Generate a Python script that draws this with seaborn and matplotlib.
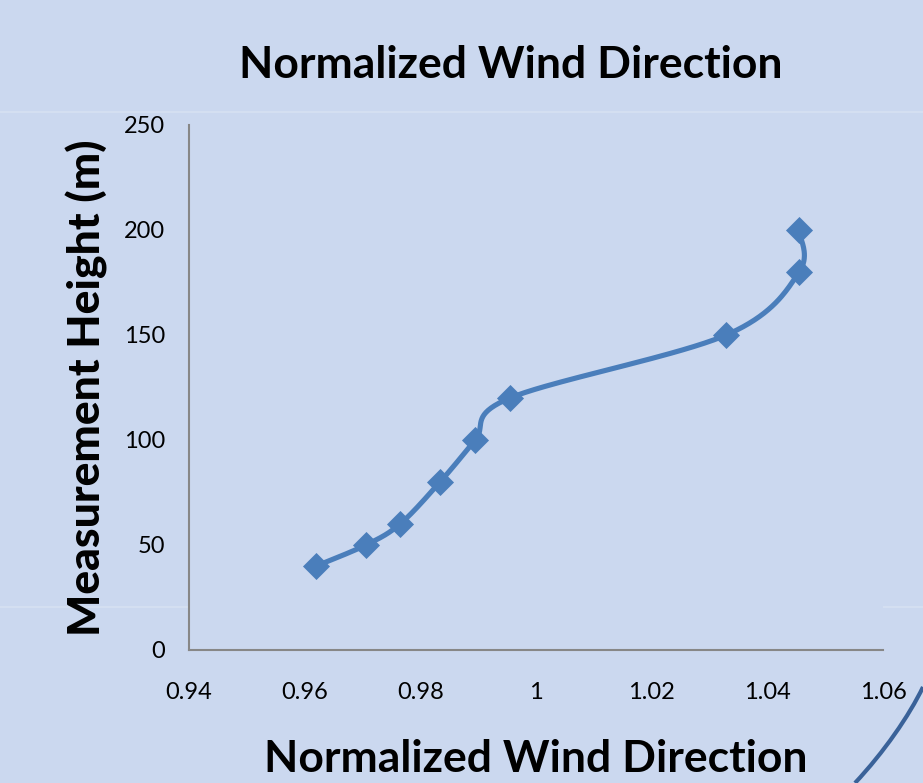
import numpy as np
import pandas as pd
import matplotlib
matplotlib.use("Agg")
import matplotlib.pyplot as plt
from matplotlib.patches import PathPatch
from matplotlib.path import Path
import seaborn as sns

# Measured profile
wind_dir = [0.962, 0.9706, 0.9765, 0.9834, 0.9895, 0.9955, 1.0329, 1.0455, 1.0454]
height = [40, 50, 60, 80, 100, 120, 150, 180, 200]
x_ticks = [0.94, 0.96, 0.98, 1.0, 1.02, 1.04, 1.06]
x_tick_labels = ["0.94", "0.96", "0.98", "1", "1.02", "1.04", "1.06"]
y_ticks = [0, 50, 100, 150, 200, 250]

BG = "#cbd8ef"
LINE = "#4a7ebb"

sns.set_theme(style="white")
plt.rcParams["font.family"] = ["Lato", "DejaVu Sans"]
plt.rcParams["text.color"] = "black"
plt.rcParams["axes.labelcolor"] = "black"

fig = plt.figure(figsize=(9.23, 7.83), dpi=100, facecolor=BG)
ax = fig.add_axes([0.2048, 0.1699, 0.9567 - 0.2048, 0.8404 - 0.1699])
ax.set_facecolor(BG)
ax.set_xlim(0.94, 1.06)
ax.set_ylim(0, 250)

# subtle background banding
for yy, a in [(0.857, 0.22), (0.225, 0.22)]:
    fig.add_artist(plt.Line2D([0, 1], [yy, yy], transform=fig.transFigure,
                              color="white", lw=1.2, alpha=a, zorder=0))

# Smoothed curve (cardinal spline in screen space, like spreadsheet smoothing)
pts = ax.transData.transform(np.column_stack([wind_dir, height]))
n = len(pts)
curve = []
for i in range(n - 1):
    p0 = pts[i - 1] if i > 0 else pts[i]
    p1 = pts[i]
    p2 = pts[i + 1]
    p3 = pts[i + 2] if i + 2 < n else pts[i + 1]
    c1 = p1 + (p2 - p0) / 6.0
    c2 = p2 - (p3 - p1) / 6.0
    t = np.linspace(0, 1, 40)[:, None]
    seg = ((1 - t) ** 3) * p1 + 3 * ((1 - t) ** 2) * t * c1 + 3 * (1 - t) * t ** 2 * c2 + t ** 3 * p2
    curve.append(seg if i == 0 else seg[1:])
curve = ax.transData.inverted().transform(np.vstack(curve))
smooth = pd.DataFrame({"x": curve[:, 0], "y": curve[:, 1]})
obs = pd.DataFrame({"x": wind_dir, "y": height})

sns.lineplot(data=smooth, x="x", y="y", sort=False, estimator=None, ax=ax,
             color=LINE, lw=3.7, zorder=3)
sns.scatterplot(data=obs, x="x", y="y", ax=ax, marker="D", s=190,
                color=LINE, edgecolor=LINE, linewidth=0, zorder=4)

ax.set_xticks(x_ticks)
ax.set_xticklabels(x_tick_labels)
ax.set_yticks(y_ticks)
ax.tick_params(axis="both", length=0, labelsize=17, colors="black")
ax.tick_params(axis="x", pad=23)
ax.tick_params(axis="y", pad=17)
for s in ["top", "right"]:
    ax.spines[s].set_visible(False)
for s in ["left", "bottom"]:
    ax.spines[s].set_color("#878787")
    ax.spines[s].set_linewidth(1.5)

ax.set_xlabel("Normalized Wind Direction", fontsize=32, fontweight="bold", labelpad=26)
ax.set_ylabel("Measurement Height (m)", fontsize=32, fontweight="black", labelpad=12)
fig.text(0.553, 0.917, "Normalized Wind Direction", ha="center", va="center",
         fontsize=32, fontweight="bold")

# decorative swoosh in the lower-right corner
verts = [(923, 783 - 687), (909, 783 - 716), (884, 783 - 752), (855, 0)]
verts = [(vx / 923, vy / 783) for vx, vy in verts]
swoosh = PathPatch(Path(verts, [Path.MOVETO, Path.CURVE4, Path.CURVE4, Path.CURVE4]),
                   transform=fig.transFigure, fill=False, edgecolor="#3a6299", lw=3)
fig.add_artist(swoosh)

fig.savefig("out.png", dpi=100, facecolor=BG)
